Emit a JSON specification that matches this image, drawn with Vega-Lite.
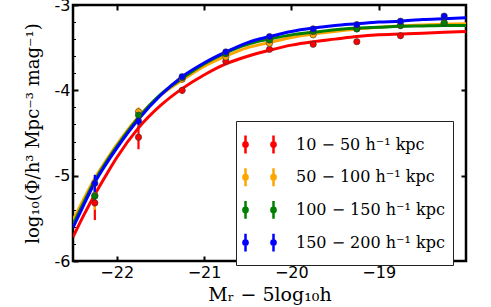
{
"$schema": "https://vega.github.io/schema/vega-lite/v6.json",
"width": 393, "height": 256,
"autosize": "none",
"padding": {"left": 73, "top": 5, "right": 25, "bottom": 46},
"background": "white",
"config": {
  "view": {"stroke": "black", "strokeWidth": 2.5},
  "axis": {"grid": false, "domain": false, "tickColor": "black", "labelColor": "black", "titleColor": "black", "labelFont": "DejaVu Sans", "labelFontSize": 16, "titleFont": "DejaVu Serif", "titleFontWeight": "normal"}
},
"datasets": {
"curves": [
{"s":"10 − 50 h⁻¹ kpc","M":-22.5,"v":-5.72},{"s":"10 − 50 h⁻¹ kpc","M":-22.375,"v":-5.46},{"s":"10 − 50 h⁻¹ kpc","M":-22.25,"v":-5.22},{"s":"10 − 50 h⁻¹ kpc","M":-22.125,"v":-5.0},{"s":"10 − 50 h⁻¹ kpc","M":-22,"v":-4.79},{"s":"10 − 50 h⁻¹ kpc","M":-21.75,"v":-4.44},{"s":"10 − 50 h⁻¹ kpc","M":-21.5,"v":-4.18},{"s":"10 − 50 h⁻¹ kpc","M":-21.25,"v":-3.98},{"s":"10 − 50 h⁻¹ kpc","M":-21,"v":-3.82},{"s":"10 − 50 h⁻¹ kpc","M":-20.75,"v":-3.69},{"s":"10 − 50 h⁻¹ kpc","M":-20.5,"v":-3.6},{"s":"10 − 50 h⁻¹ kpc","M":-20.25,"v":-3.53},{"s":"10 − 50 h⁻¹ kpc","M":-20,"v":-3.47},{"s":"10 − 50 h⁻¹ kpc","M":-19.75,"v":-3.43},{"s":"10 − 50 h⁻¹ kpc","M":-19.5,"v":-3.4},{"s":"10 − 50 h⁻¹ kpc","M":-19.25,"v":-3.37},{"s":"10 − 50 h⁻¹ kpc","M":-19,"v":-3.35},{"s":"10 − 50 h⁻¹ kpc","M":-18.75,"v":-3.34},{"s":"10 − 50 h⁻¹ kpc","M":-18.5,"v":-3.33},{"s":"10 − 50 h⁻¹ kpc","M":-18.25,"v":-3.32},{"s":"10 − 50 h⁻¹ kpc","M":-18,"v":-3.31},
{"s":"50 − 100 h⁻¹ kpc","M":-22.5,"v":-5.52},{"s":"50 − 100 h⁻¹ kpc","M":-22.375,"v":-5.27},{"s":"50 − 100 h⁻¹ kpc","M":-22.25,"v":-5.03},{"s":"50 − 100 h⁻¹ kpc","M":-22.125,"v":-4.83},{"s":"50 − 100 h⁻¹ kpc","M":-22,"v":-4.64},{"s":"50 − 100 h⁻¹ kpc","M":-21.75,"v":-4.31},{"s":"50 − 100 h⁻¹ kpc","M":-21.5,"v":-4.06},{"s":"50 − 100 h⁻¹ kpc","M":-21.25,"v":-3.88},{"s":"50 − 100 h⁻¹ kpc","M":-21,"v":-3.72},{"s":"50 − 100 h⁻¹ kpc","M":-20.75,"v":-3.6},{"s":"50 − 100 h⁻¹ kpc","M":-20.5,"v":-3.5},{"s":"50 − 100 h⁻¹ kpc","M":-20.25,"v":-3.44},{"s":"50 − 100 h⁻¹ kpc","M":-20,"v":-3.38},{"s":"50 − 100 h⁻¹ kpc","M":-19.75,"v":-3.34},{"s":"50 − 100 h⁻¹ kpc","M":-19.5,"v":-3.31},{"s":"50 − 100 h⁻¹ kpc","M":-19.25,"v":-3.28},{"s":"50 − 100 h⁻¹ kpc","M":-19,"v":-3.26},{"s":"50 − 100 h⁻¹ kpc","M":-18.75,"v":-3.245},{"s":"50 − 100 h⁻¹ kpc","M":-18.5,"v":-3.235},{"s":"50 − 100 h⁻¹ kpc","M":-18.25,"v":-3.225},{"s":"50 − 100 h⁻¹ kpc","M":-18,"v":-3.22},
{"s":"100 − 150 h⁻¹ kpc","M":-22.5,"v":-5.57},{"s":"100 − 150 h⁻¹ kpc","M":-22.375,"v":-5.31},{"s":"100 − 150 h⁻¹ kpc","M":-22.25,"v":-5.06},{"s":"100 − 150 h⁻¹ kpc","M":-22.125,"v":-4.85},{"s":"100 − 150 h⁻¹ kpc","M":-22,"v":-4.66},{"s":"100 − 150 h⁻¹ kpc","M":-21.75,"v":-4.32},{"s":"100 − 150 h⁻¹ kpc","M":-21.5,"v":-4.05},{"s":"100 − 150 h⁻¹ kpc","M":-21.25,"v":-3.86},{"s":"100 − 150 h⁻¹ kpc","M":-21,"v":-3.69},{"s":"100 − 150 h⁻¹ kpc","M":-20.75,"v":-3.56},{"s":"100 − 150 h⁻¹ kpc","M":-20.5,"v":-3.46},{"s":"100 − 150 h⁻¹ kpc","M":-20.25,"v":-3.4},{"s":"100 − 150 h⁻¹ kpc","M":-20,"v":-3.35},{"s":"100 − 150 h⁻¹ kpc","M":-19.75,"v":-3.32},{"s":"100 − 150 h⁻¹ kpc","M":-19.5,"v":-3.29},{"s":"100 − 150 h⁻¹ kpc","M":-19.25,"v":-3.27},{"s":"100 − 150 h⁻¹ kpc","M":-19,"v":-3.26},{"s":"100 − 150 h⁻¹ kpc","M":-18.75,"v":-3.25},{"s":"100 − 150 h⁻¹ kpc","M":-18.5,"v":-3.245},{"s":"100 − 150 h⁻¹ kpc","M":-18.25,"v":-3.24},{"s":"100 − 150 h⁻¹ kpc","M":-18,"v":-3.24},
{"s":"150 − 200 h⁻¹ kpc","M":-22.5,"v":-5.61},{"s":"150 − 200 h⁻¹ kpc","M":-22.375,"v":-5.34},{"s":"150 − 200 h⁻¹ kpc","M":-22.25,"v":-5.08},{"s":"150 − 200 h⁻¹ kpc","M":-22.125,"v":-4.87},{"s":"150 − 200 h⁻¹ kpc","M":-22,"v":-4.68},{"s":"150 − 200 h⁻¹ kpc","M":-21.75,"v":-4.34},{"s":"150 − 200 h⁻¹ kpc","M":-21.5,"v":-4.06},{"s":"150 − 200 h⁻¹ kpc","M":-21.25,"v":-3.84},{"s":"150 − 200 h⁻¹ kpc","M":-21,"v":-3.68},{"s":"150 − 200 h⁻¹ kpc","M":-20.75,"v":-3.55},{"s":"150 − 200 h⁻¹ kpc","M":-20.5,"v":-3.44},{"s":"150 − 200 h⁻¹ kpc","M":-20.25,"v":-3.37},{"s":"150 − 200 h⁻¹ kpc","M":-20,"v":-3.31},{"s":"150 − 200 h⁻¹ kpc","M":-19.75,"v":-3.27},{"s":"150 − 200 h⁻¹ kpc","M":-19.5,"v":-3.24},{"s":"150 − 200 h⁻¹ kpc","M":-19.25,"v":-3.22},{"s":"150 − 200 h⁻¹ kpc","M":-19,"v":-3.2},{"s":"150 − 200 h⁻¹ kpc","M":-18.75,"v":-3.19},{"s":"150 − 200 h⁻¹ kpc","M":-18.5,"v":-3.17},{"s":"150 − 200 h⁻¹ kpc","M":-18.25,"v":-3.16},{"s":"150 − 200 h⁻¹ kpc","M":-18,"v":-3.15}
],
"pts": [
{"s":"10 − 50 h⁻¹ kpc","M":-22.25,"v":-5.32,"lo":-5.52,"hi":-5.12},{"s":"10 − 50 h⁻¹ kpc","M":-21.75,"v":-4.55,"lo":-4.69,"hi":-4.41},{"s":"10 − 50 h⁻¹ kpc","M":-21.25,"v":-4.0,"lo":-4.04,"hi":-3.96},{"s":"10 − 50 h⁻¹ kpc","M":-20.75,"v":-3.66,"lo":-3.69,"hi":-3.63},{"s":"10 − 50 h⁻¹ kpc","M":-20.25,"v":-3.52,"lo":-3.54,"hi":-3.5},{"s":"10 − 50 h⁻¹ kpc","M":-19.75,"v":-3.46,"lo":-3.48,"hi":-3.44},{"s":"10 − 50 h⁻¹ kpc","M":-19.25,"v":-3.43,"lo":-3.45,"hi":-3.41},{"s":"10 − 50 h⁻¹ kpc","M":-18.75,"v":-3.36,"lo":-3.38,"hi":-3.34},
{"s":"50 − 100 h⁻¹ kpc","M":-22.25,"v":-5.23,"lo":-5.4,"hi":-5.06},{"s":"50 − 100 h⁻¹ kpc","M":-21.75,"v":-4.25,"lo":-4.3,"hi":-4.2},{"s":"50 − 100 h⁻¹ kpc","M":-21.25,"v":-3.87,"lo":-3.9,"hi":-3.84},{"s":"50 − 100 h⁻¹ kpc","M":-20.75,"v":-3.61,"lo":-3.63,"hi":-3.59},{"s":"50 − 100 h⁻¹ kpc","M":-20.25,"v":-3.45,"lo":-3.47,"hi":-3.43},{"s":"50 − 100 h⁻¹ kpc","M":-19.75,"v":-3.35,"lo":-3.37,"hi":-3.33},{"s":"50 − 100 h⁻¹ kpc","M":-19.25,"v":-3.28,"lo":-3.3,"hi":-3.26},{"s":"50 − 100 h⁻¹ kpc","M":-18.75,"v":-3.24,"lo":-3.26,"hi":-3.22},{"s":"50 − 100 h⁻¹ kpc","M":-18.25,"v":-3.21,"lo":-3.23,"hi":-3.19},
{"s":"100 − 150 h⁻¹ kpc","M":-22.25,"v":-5.24,"lo":-5.34,"hi":-5.14},{"s":"100 − 150 h⁻¹ kpc","M":-21.75,"v":-4.29,"lo":-4.35,"hi":-4.23},{"s":"100 − 150 h⁻¹ kpc","M":-21.25,"v":-3.85,"lo":-3.88,"hi":-3.82},{"s":"100 − 150 h⁻¹ kpc","M":-20.75,"v":-3.57,"lo":-3.59,"hi":-3.55},{"s":"100 − 150 h⁻¹ kpc","M":-20.25,"v":-3.41,"lo":-3.43,"hi":-3.39},{"s":"100 − 150 h⁻¹ kpc","M":-19.75,"v":-3.31,"lo":-3.33,"hi":-3.29},{"s":"100 − 150 h⁻¹ kpc","M":-19.25,"v":-3.28,"lo":-3.3,"hi":-3.26},{"s":"100 − 150 h⁻¹ kpc","M":-18.75,"v":-3.24,"lo":-3.26,"hi":-3.22},{"s":"100 − 150 h⁻¹ kpc","M":-18.25,"v":-3.21,"lo":-3.23,"hi":-3.19},
{"s":"150 − 200 h⁻¹ kpc","M":-22.25,"v":-5.09,"lo":-5.19,"hi":-4.99},{"s":"150 − 200 h⁻¹ kpc","M":-21.75,"v":-4.36,"lo":-4.41,"hi":-4.31},{"s":"150 − 200 h⁻¹ kpc","M":-21.25,"v":-3.84,"lo":-3.87,"hi":-3.81},{"s":"150 − 200 h⁻¹ kpc","M":-20.75,"v":-3.55,"lo":-3.57,"hi":-3.53},{"s":"150 − 200 h⁻¹ kpc","M":-20.25,"v":-3.37,"lo":-3.39,"hi":-3.35},{"s":"150 − 200 h⁻¹ kpc","M":-19.75,"v":-3.28,"lo":-3.3,"hi":-3.26},{"s":"150 − 200 h⁻¹ kpc","M":-19.25,"v":-3.23,"lo":-3.25,"hi":-3.21},{"s":"150 − 200 h⁻¹ kpc","M":-18.75,"v":-3.19,"lo":-3.21,"hi":-3.17},{"s":"150 − 200 h⁻¹ kpc","M":-18.25,"v":-3.13,"lo":-3.15,"hi":-3.11}
]
},
"layer": [
{
  "data": {"name": "curves"},
  "mark": {"type": "line", "strokeWidth": 3, "interpolate": "monotone", "clip": true},
  "encoding": {
    "x": {"field": "M", "type": "quantitative", "scale": {"domain": [-22.5, -18], "nice": false, "zero": false}, "axis": null},
    "y": {"field": "v", "type": "quantitative", "scale": {"domain": [-6, -3], "nice": false, "zero": false}, "axis": null},
    "color": {"field": "s", "type": "nominal", "sort": null,
      "scale": {"domain": ["10 − 50 h⁻¹ kpc", "50 − 100 h⁻¹ kpc", "100 − 150 h⁻¹ kpc", "150 − 200 h⁻¹ kpc"], "range": ["#ff0000", "#ffa500", "#008000", "#0000ff"]},
      "legend": {"title": null, "orient": "none", "legendX": 163, "legendY": 116, "direction": "vertical",
        "symbolType": "M-1,-0.64L-1,0.64M1,-0.64L1,0.64M-0.85,0A0.15,0.15,0,1,0,-1.15,0A0.15,0.15,0,1,0,-0.85,0M1.15,0A0.15,0.15,0,1,0,0.85,0A0.15,0.15,0,1,0,1.15,0",
        "symbolSize": 784, "symbolStrokeWidth": 2.5, "labelFont": "DejaVu Serif", "labelFontSize": 16, "labelColor": "black", "labelOffset": 21, "labelLimit": 300,
        "padding": 8, "rowPadding": 2.7, "strokeColor": "#222", "fillColor": "white"}}
  }
},
{
  "data": {"name": "pts"},
  "mark": {"type": "rule", "strokeWidth": 2.2},
  "encoding": {
    "x": {"field": "M", "type": "quantitative", "axis": {"orient": "top", "values": [-22, -21, -20, -19], "labels": false, "tickSize": -5, "tickWidth": 2, "title": null}},
    "y": {"field": "lo", "type": "quantitative", "axis": {"orient": "right", "values": [-5, -4], "labels": false, "tickSize": -5, "tickWidth": 2, "title": null}},
    "y2": {"field": "hi"},
    "color": {"field": "s", "type": "nominal"}
  }
},
{
  "data": {"name": "pts"},
  "mark": {"type": "point", "filled": true, "size": 40, "stroke": "#333", "strokeWidth": 0.6, "opacity": 1},
  "encoding": {
    "x": {"field": "M", "type": "quantitative", "axis": {"orient": "bottom", "values": [-22, -21, -20, -19], "tickSize": -5, "tickWidth": 2, "labelPadding": 8,
      "title": "Mᵣ − 5log₁₀h", "titleFontSize": 19, "titleBaseline": "middle", "titleY": 33}},
    "y": {"field": "v", "type": "quantitative", "axis": {"orient": "left",
      "values": [-6, -5.8, -5.6, -5.4, -5.2, -5, -4.8, -4.6, -4.4, -4.2, -4, -3.8, -3.6, -3.4, -3.2, -3],
      "labelExpr": "abs(datum.value - round(datum.value)) < 0.001 ? '-' + format(abs(datum.value), 'd') : ''",
      "tickSize": {"condition": {"test": "abs(datum.value - round(datum.value)) < 0.001", "value": -5}, "value": -2.5},
      "tickWidth": {"condition": {"test": "abs(datum.value - round(datum.value)) < 0.001", "value": 2}, "value": 1},
      "labelPadding": 8,
      "title": "log₁₀(Φ/h³ Mpc⁻³ mag⁻¹)", "titleFontSize": 18, "titleBaseline": "middle", "titleX": -40, "titleY": 128}},
    "color": {"field": "s", "type": "nominal"}
  }
}
],
"resolve": {"axis": {"x": "independent", "y": "independent"}}
}
